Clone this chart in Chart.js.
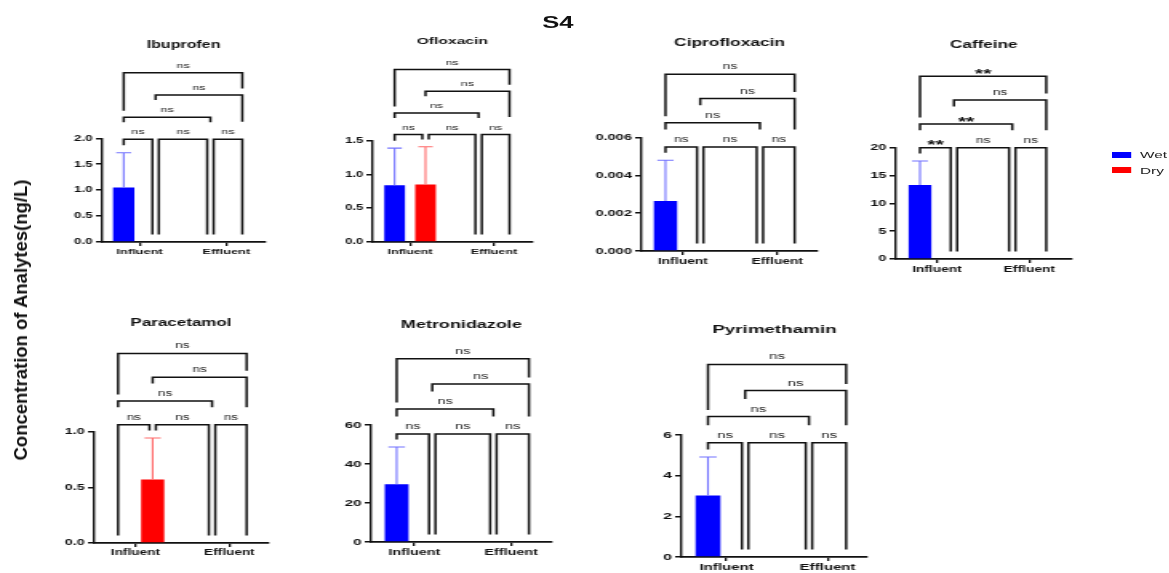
<!DOCTYPE html>
<html>
<head>
<meta charset="utf-8">
<script src="https://cdn.jsdelivr.net/npm/chart.js@4.4.1/dist/chart.umd.min.js"></script>
<style>
body { margin: 0; background: #fff; width: 1169px; height: 573px; overflow: hidden; position: relative; font-family: 'Liberation Sans', Arial, sans-serif; }
/* the source figure is stretched sideways, so the panels are drawn narrow and scaled */
#fig { position: absolute; left: 0; top: 0; width: 731px; height: 573px; transform: scaleX(1.6); transform-origin: 0 0; }
#fig canvas { position: absolute; }
#mainTitle { position: absolute; left: 348.7px; top: 13px; line-height: 20px; font-size: 16px; font-weight: bold; color: #111; transform: translateX(-50%); }
.lgBox { position: absolute; left: 694.8px; width: 11.9px; height: 6px; }
.lgText { position: absolute; left: 712.5px; font-size: 9.6px; line-height: 12px; color: #222; }
#yLabel { position: absolute; left: 21px; top: 320px; transform: translate(-50%, -50%) rotate(-90deg); white-space: nowrap; font-size: 18.5px; font-weight: bold; color: #111; }
</style>
</head>
<body>
<div id="fig">
  <div id="mainTitle">S4</div>
  <div class="lgBox" style="top:152px;background:#0000ff"></div>
  <div class="lgText" style="top:149px">Wet</div>
  <div class="lgBox" style="top:167px;background:#ff0000"></div>
  <div class="lgText" style="top:164.5px">Dry</div>
</div>
<div id="yLabel">Concentration of Analytes(ng/L)</div>
<script>
// values
var drugs = ['Ibuprofen', 'Ofloxacin', 'Ciprofloxacin', 'Caffeine', 'Paracetamol', 'Metronidazole', 'Pyrimethamin'];
var categories = ['Influent', 'Effluent'];
var seriesNames = ['Wet', 'Dry'];
var wetMean = [[1.05, 0], [0.84, 0], [0.00265, 0], [13.3, 0], [0, 0], [29.6, 0], [3.02, 0]];
var wetErr  = [[0.67, 0], [0.55, 0], [0.00215, 0], [4.3, 0], [0, 0], [19.1, 0], [1.9, 0]];
var dryMean = [[0, 0], [0.85, 0], [0, 0], [0, 0], [0.572, 0], [0, 0], [0, 0]];
var dryErr  = [[0, 0], [0.56, 0], [0, 0], [0, 0], [0.374, 0], [0, 0], [0, 0]];
var yMax = [2.0, 1.5, 0.006, 20, 1.0, 60, 6];
var yStep = [0.5, 0.5, 0.002, 5, 0.5, 20, 2];
var tickDecimals = [1, 1, 3, 0, 1, 0, 0];
// comparisons: Infl-Wet(0), Infl-Dry(1), Effl-Wet(2), Effl-Dry(3)
var pairs = [[0, 1], [1, 2], [2, 3], [0, 2], [1, 3], [0, 3]];
var levels = [0, 0, 0, 1, 2, 3];
var sigLabels = [
    ['ns', 'ns', 'ns', 'ns', 'ns', 'ns'],
    ['ns', 'ns', 'ns', 'ns', 'ns', 'ns'],
    ['ns', 'ns', 'ns', 'ns', 'ns', 'ns'],
    ['**', 'ns', 'ns', '**', 'ns', '**'],
    ['ns', 'ns', 'ns', 'ns', 'ns', 'ns'],
    ['ns', 'ns', 'ns', 'ns', 'ns', 'ns'],
    ['ns', 'ns', 'ns', 'ns', 'ns', 'ns']
];
var bracketBase = [1.98, 1.59, 0.0055, 20, 1.066, 55.4, 5.62];

// panel placement on the page (page pixels)
var S = 1.6;
var panels = [
    {axisX: 101.7, xEnd: 264,    yTop: 138.3, yBot: 242.3, titleY: 45,    tickInf: 139,   tickEff: 225.7},
    {axisX: 372.7, xEnd: 531.7,  yTop: 140.7, yBot: 242,   titleY: 41,    tickInf: 410,   tickEff: 494},
    {axisX: 641,   xEnd: 817,    yTop: 137.3, yBot: 250.3, titleY: 42.7,  tickInf: 682.3, tickEff: 776.7},
    {axisX: 896.7, xEnd: 1072.3, yTop: 147.7, yBot: 259.3, titleY: 45,    tickInf: 937.7, tickEff: 1030},
    {axisX: 95,    xEnd: 268.3,  yTop: 431.7, yBot: 542.3, titleY: 322.7, tickInf: 136,   tickEff: 230},
    {axisX: 371.7, xEnd: 552,    yTop: 425,   yBot: 542,   titleY: 325,   tickInf: 415,   tickEff: 511.7},
    {axisX: 682.3, xEnd: 868,    yTop: 435,   yBot: 557.3, titleY: 330,   tickInf: 727.3, tickEff: 828.3}
];
var YW = 32, XH = 24;
var FONT = "'Liberation Sans', Arial, sans-serif";
Chart.defaults.font.family = FONT;

var marksPlugin = {
    id: 'marks',
    afterDatasetsDraw: function(chart, args, o) {
        // upper error bars with caps
        var i = o.panel, ctx = chart.ctx, y = chart.scales.y;
        ctx.save();
        [0, 1].forEach(function(d) {
            var means = d === 0 ? wetMean[i] : dryMean[i];
            var errs = d === 0 ? wetErr[i] : dryErr[i];
            chart.getDatasetMeta(d).data.forEach(function(bar, c) {
                if (!(errs[c] > 0)) return;
                var yt = y.getPixelForValue(means[c] + errs[c]);
                var half = bar.width * 0.35;
                ctx.strokeStyle = d === 0 ? '#7373ff' : '#ff6a6a';
                ctx.lineWidth = 1.1;
                ctx.beginPath();
                ctx.moveTo(bar.x, bar.y);
                ctx.lineTo(bar.x, yt);
                ctx.moveTo(bar.x - half, yt);
                ctx.lineTo(bar.x + half, yt);
                ctx.stroke();
            });
        });
        ctx.restore();
    },
    afterDraw: function(chart, args, o) {
        // significance brackets above the plot
        var i = o.panel, k = o.k, ctx = chart.ctx, y = chart.scales.y;
        var m0 = chart.getDatasetMeta(0).data, m1 = chart.getDatasetMeta(1).data;
        var gx = [m0[0].x, m1[0].x, m0[1].x, m1[1].x];
        var means = [wetMean[i][0], dryMean[i][0], wetMean[i][1], dryMean[i][1]];
        var errs = [wetErr[i][0], dryErr[i][0], wetErr[i][1], dryErr[i][1]];
        var gTop = means.map(function(v, g) {
            return v > 0 ? y.getPixelForValue(v + errs[g]) : y.getPixelForValue(0);
        });
        var base = y.getPixelForValue(bracketBase[i]);
        var step = 0.214 * (y.bottom - y.top);
        var obstacles = [];
        ctx.save();
        ctx.strokeStyle = '#111';
        ctx.lineWidth = 1.5;
        ctx.lineJoin = 'miter';
        ctx.textAlign = 'center';
        ctx.textBaseline = 'alphabetic';
        pairs.forEach(function(pr, j) {
            var a = pr[0], b = pr[1], lvl = levels[j];
            var ly = base - lvl * step;
            var xl = gx[a], xr = gx[b];
            if (lvl === 0) {
                if (a > 0) xl += 2;
                if (b < 3) xr -= 2;
            }
            var legEnd = function(x, g) {
                if (lvl === 0) return Math.max(ly + 5, gTop[g] - 7.5);
                var top = Infinity;
                obstacles.forEach(function(ob) {
                    if (x >= ob.x1 && x <= ob.x2) top = Math.min(top, ob.top);
                });
                if (top === Infinity) top = gTop[g];
                return Math.max(ly + 5, top - 6.5);
            };
            var lb = legEnd(xl, a), rb = legEnd(xr, b);
            ctx.beginPath();
            ctx.moveTo(xl, lb);
            ctx.lineTo(xl, ly);
            ctx.lineTo(xr, ly);
            ctx.lineTo(xr, rb);
            ctx.stroke();

            var label = sigLabels[i][j];
            var cx = (xl + xr) / 2, ty, size;
            if (label === 'ns') {
                size = 8 * k;
                ctx.font = size + 'px ' + FONT;
                ctx.fillStyle = '#222';
                ty = ly - 5;
            } else {
                size = 12.5 * k;
                ctx.font = 'bold ' + size + 'px ' + FONT;
                ctx.fillStyle = '#111';
                ty = ly - 6 + 0.58 * size;
            }
            ctx.fillText(label, cx, ty);
            var tw = ctx.measureText(label).width;
            if (lvl === 0) {
                obstacles.push({x1: xl - 2.5, x2: xr + 2.5, top: ly - 11});
            } else {
                obstacles.push({x1: xl - 1, x2: xr + 1, top: ly});
                obstacles.push({x1: cx - tw / 2 - 4, x2: cx + tw / 2 + 4, top: ly - 11});
            }
        });
        ctx.restore();
    }
};

var fig = document.getElementById('fig');

panels.forEach(function(p, i) {
    var k = (p.yBot - p.yTop) / 104;
    var cTop = p.titleY - 12;
    var plotW = (p.xEnd - p.axisX) / S;
    var W = Math.ceil(plotW + YW + 4);
    var H = Math.round(p.yBot - cTop + XH);
    var span = p.tickEff - p.tickInf;
    var xmin = -(p.tickInf - p.axisX) / span;
    var xmax = 1 + (p.xEnd - p.tickEff) / span;
    var ts = 10 * k;
    var padTop = 12 - 0.6 * ts;
    var titleGap = (p.yTop - cTop) - padTop - 1.2 * ts;

    var cv = document.createElement('canvas');
    cv.width = W;
    cv.height = H;
    cv.style.left = (p.axisX / S - YW) + 'px';
    cv.style.top = cTop + 'px';
    fig.appendChild(cv);

    new Chart(cv, {
        type: 'bar',
        data: {
            datasets: [
                {
                    label: seriesNames[0],
                    data: wetMean[i].map(function(v, c) { return {x: c, y: v}; }),
                    backgroundColor: '#0000ff',
                    borderWidth: 0
                },
                {
                    label: seriesNames[1],
                    data: dryMean[i].map(function(v, c) { return {x: c, y: v}; }),
                    backgroundColor: '#ff0000',
                    borderWidth: 0
                }
            ]
        },
        options: {
            responsive: false,
            animation: false,
            events: [],
            categoryPercentage: 0.736,
            barPercentage: 0.67,
            layout: {padding: {top: padTop, left: 0, right: W - YW - plotW, bottom: 0}},
            plugins: {
                legend: {display: false},
                tooltip: {enabled: false},
                title: {
                    display: true,
                    text: drugs[i],
                    fullSize: false,
                    color: '#111',
                    font: {size: ts, weight: 'bold'},
                    padding: {top: 0, bottom: titleGap}
                },
                marks: {panel: i, k: k}
            },
            scales: {
                x: {
                    type: 'linear',
                    min: xmin,
                    max: xmax,
                    offset: false,
                    grid: {display: true, offset: false, drawOnChartArea: false, drawTicks: true, tickLength: 4, color: '#111', lineWidth: 1.3},
                    border: {display: true, color: '#111', width: 1.7},
                    afterBuildTicks: function(scale) { scale.ticks = [{value: 0}, {value: 1}]; },
                    afterFit: function(scale) { scale.height = XH; },
                    ticks: {
                        autoSkip: false,
                        maxRotation: 0,
                        padding: 1,
                        color: '#111',
                        font: {size: 8 * k, weight: 'bold'},
                        callback: function(v) { return categories[v] || ''; }
                    }
                },
                y: {
                    min: 0,
                    max: yMax[i],
                    grid: {display: true, drawOnChartArea: false, drawTicks: true, tickLength: 4, color: '#111', lineWidth: 1.5},
                    border: {display: true, color: '#111', width: 1.4},
                    afterFit: function(scale) { scale.width = YW; },
                    ticks: {
                        stepSize: yStep[i],
                        padding: 2,
                        color: '#111',
                        font: {size: 8.4 * k, weight: 'bold'},
                        callback: function(v) { return Number(v).toFixed(tickDecimals[i]); }
                    }
                }
            }
        },
        plugins: [marksPlugin]
    });
});
</script>
</body>
</html>
